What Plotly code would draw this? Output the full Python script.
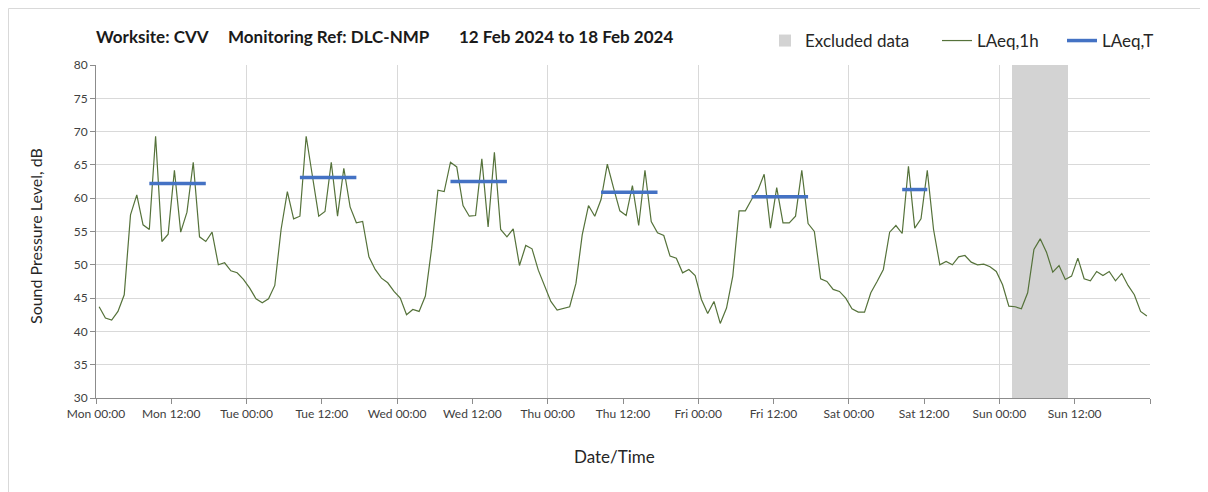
import pandas as pd
import plotly.graph_objects as go

# ---------------- data ----------------
period_start = "2024-02-12 00:00"
period_end = "2024-02-19 00:00"

# Hourly LAeq,1h values (dB), Mon 00:00 .. Sun 23:00
laeq_mon = [43.7, 42.0, 41.7, 43.0, 45.5, 57.5, 60.5, 56.0, 55.3, 69.3, 53.5, 54.6,
            64.2, 54.9, 57.9, 65.4, 54.2, 53.5, 54.9, 50.0, 50.3, 49.1, 48.8, 47.8]
laeq_tue = [46.5, 44.9, 44.3, 44.9, 46.9, 55.3, 61.0, 56.9, 57.3, 69.3, 63.3, 57.3,
            58.0, 65.4, 57.3, 64.5, 58.7, 56.3, 56.5, 51.2, 49.3, 48.0, 47.3, 46.0]
laeq_wed = [45.0, 42.5, 43.3, 43.0, 45.3, 52.5, 61.2, 61.0, 65.4, 64.7, 58.9, 57.3,
            57.4, 65.9, 55.7, 66.9, 55.3, 54.2, 55.4, 49.9, 52.9, 52.4, 49.2, 46.8]
laeq_thu = [44.5, 43.2, 43.5, 43.7, 47.2, 54.5, 58.9, 57.3, 59.8, 65.1, 61.5, 58.1,
            57.4, 61.9, 55.9, 64.2, 56.5, 54.8, 54.4, 51.3, 51.0, 48.8, 49.3, 48.4]
laeq_fri = [44.8, 42.7, 44.5, 41.2, 43.5, 48.3, 58.1, 58.1, 59.8, 61.2, 63.6, 55.5,
            61.6, 56.3, 56.3, 57.3, 64.2, 56.2, 55.0, 47.9, 47.5, 46.3, 46.0, 45.0]
laeq_sat = [43.4, 42.9, 42.9, 45.8, 47.5, 49.3, 54.9, 55.9, 54.7, 64.8, 55.5, 56.9,
            64.2, 55.3, 50.0, 50.5, 50.0, 51.2, 51.4, 50.4, 50.0, 50.1, 49.7, 49.0]
laeq_sun = [47.0, 43.8, 43.7, 43.4, 45.8, 52.3, 53.9, 51.9, 48.9, 49.9, 47.8, 48.3,
            51.0, 47.9, 47.6, 49.0, 48.4, 49.0, 47.6, 48.7, 46.9, 45.5, 43.0, 42.3]

# LAeq,T over the working periods
laeqT_start = ["2024-02-12 08:00", "2024-02-13 08:00", "2024-02-14 08:00",
               "2024-02-15 08:00", "2024-02-16 08:00", "2024-02-17 08:00"]
laeqT_end = ["2024-02-12 18:00", "2024-02-13 18:00", "2024-02-14 18:00",
             "2024-02-15 18:00", "2024-02-16 18:00", "2024-02-17 13:00"]
laeqT_values = [62.2, 63.1, 62.5, 60.9, 60.2, 61.3]

# Excluded data period
excluded_start = "2024-02-18 02:00"
excluded_end = "2024-02-18 11:00"

# ---------------- build ----------------
laeq_1h = laeq_mon + laeq_tue + laeq_wed + laeq_thu + laeq_fri + laeq_sat + laeq_sun
hour_start = pd.date_range(period_start, periods=len(laeq_1h), freq="h")
hour_mid = hour_start + pd.Timedelta(minutes=30)

laeqT_series = []
for hs in hour_start:
    v = None
    for s, e, val in zip(laeqT_start, laeqT_end, laeqT_values):
        if pd.Timestamp(s) <= hs < pd.Timestamp(e):
            v = val
    laeqT_series.append(v)

ex_s = pd.Timestamp(excluded_start)
ex_e = pd.Timestamp(excluded_end)
ex_mid = ex_s + (ex_e - ex_s) / 2
ex_width_ms = (ex_e - ex_s).total_seconds() * 1000

major_ticks = pd.date_range(period_start, period_end, freq="12h")
major_text = [t.strftime("%a %H:%M") for t in major_ticks[:-1]] + [""]
day_ticks = pd.date_range(period_start, period_end, freq="24h")

# page offset of the figure (default body margin of the html page)
OFF = 8
# desired plot area in page pixels
PL, PR, PT, PB = 96, 1150, 65, 398
W, H = 1200, 484
ML, MT = PL - OFF, PT - OFF
MR, MB = W - (PR - OFF), H - (PB - OFF)
PW, PH = PR - PL, PB - PT


def px_x(px):
    return (px - PL) / PW


def px_y(py):
    return 1 + (PT - py) / PH


FONT = "Lato"
GRID = "#d9d9d9"
AXIS = "#8c8c8c"
TXT = "#262626"

fig = go.Figure()
fig.add_trace(go.Bar(
    x=[ex_mid], y=[1], width=[ex_width_ms], name="Excluded data",
    marker=dict(color="#d3d3d3", line=dict(width=0)),
    xaxis="x", yaxis="y", hoverinfo="skip", legend="legend",
))
fig.add_trace(go.Scatter(
    x=hour_mid, y=laeq_1h, mode="lines", name="LAeq,1h",
    line=dict(color="#55723a", width=1.2),
    xaxis="x", yaxis="y2", legend="legend2",
))
fig.add_trace(go.Scatter(
    x=hour_mid, y=laeqT_series, mode="lines", name="LAeq,T",
    line=dict(color="#4472c4", width=3.5), connectgaps=False,
    xaxis="x2", yaxis="y2", legend="legend3",
))


def legend_at(text_left_px):
    return dict(orientation="h", x=px_x(text_left_px - 40), xanchor="left",
                y=px_y(41), yanchor="middle",
                font=dict(size=17, color=TXT, family=FONT),
                itemwidth=30, bgcolor="rgba(0,0,0,0)", borderwidth=0)


rng = [period_start, period_end]
fig.update_layout(
    width=W, height=H,
    margin=dict(l=ML, r=MR, t=MT, b=MB, autoexpand=False),
    paper_bgcolor="white", plot_bgcolor="white",
    font=dict(family=FONT, color="#404040"),
    showlegend=True,
    bargap=0,
    legend=legend_at(805),
    legend2=legend_at(977),
    legend3=legend_at(1102),
    xaxis=dict(type="date", range=rng, tickmode="array",
               tickvals=major_ticks, ticktext=major_text,
               showgrid=False, showline=True, linecolor=AXIS, linewidth=1,
               ticks="outside", ticklen=5, tickcolor=AXIS,
               tickfont=dict(size=12, color="#404040"),
               zeroline=False),
    xaxis2=dict(type="date", range=rng, overlaying="x", matches="x",
                tickmode="array", tickvals=day_ticks, showticklabels=False,
                showgrid=True, gridcolor=GRID, gridwidth=1, ticks="",
                showline=False, zeroline=False),
    yaxis=dict(range=[0, 1], visible=False, fixedrange=True),
    yaxis2=dict(range=[30, 80], overlaying="y", side="left", dtick=5,
                tick0=30, showgrid=True, gridcolor=GRID, gridwidth=1,
                showline=True, linecolor=AXIS, linewidth=1,
                ticks="outside", ticklen=5, tickcolor=AXIS,
                tickfont=dict(size=12, color="#404040"),
                zeroline=False),
)

# axis titles
fig.add_annotation(text="Date/Time", x=px_x(614), y=px_y(457), xref="paper", yref="paper",
                   xanchor="center", yanchor="middle", showarrow=False,
                   font=dict(size=17, color=TXT, family=FONT))
fig.add_annotation(text="Sound Pressure Level, dB", x=px_x(35), y=px_y(236),
                   xref="paper", yref="paper", textangle=-90,
                   xanchor="center", yanchor="middle", showarrow=False,
                   font=dict(size=16, color=TXT, family=FONT))

title_parts = ["Worksite: CVV", "Monitoring Ref: DLC-NMP", "12 Feb 2024 to 18 Feb 2024"]
title_px = [94, 226, 457]
for txt, xp in zip(title_parts, title_px):
    fig.add_annotation(text="<b>%s</b>" % txt, x=px_x(xp), y=px_y(36),
                       xref="paper", yref="paper", xanchor="left", yanchor="middle",
                       showarrow=False, font=dict(size=17, color="#1a1a1a", family=FONT))

# outer chart border (kept just inside the figure's own area)
fig.add_shape(type="rect", xref="paper", yref="paper",
              x0=px_x(OFF + 0.5), x1=px_x(1230), y0=px_y(520), y1=px_y(OFF + 0.5),
              line=dict(color=GRID, width=1), fillcolor="rgba(0,0,0,0)", layer="below")

fig.write_html("out.html")
